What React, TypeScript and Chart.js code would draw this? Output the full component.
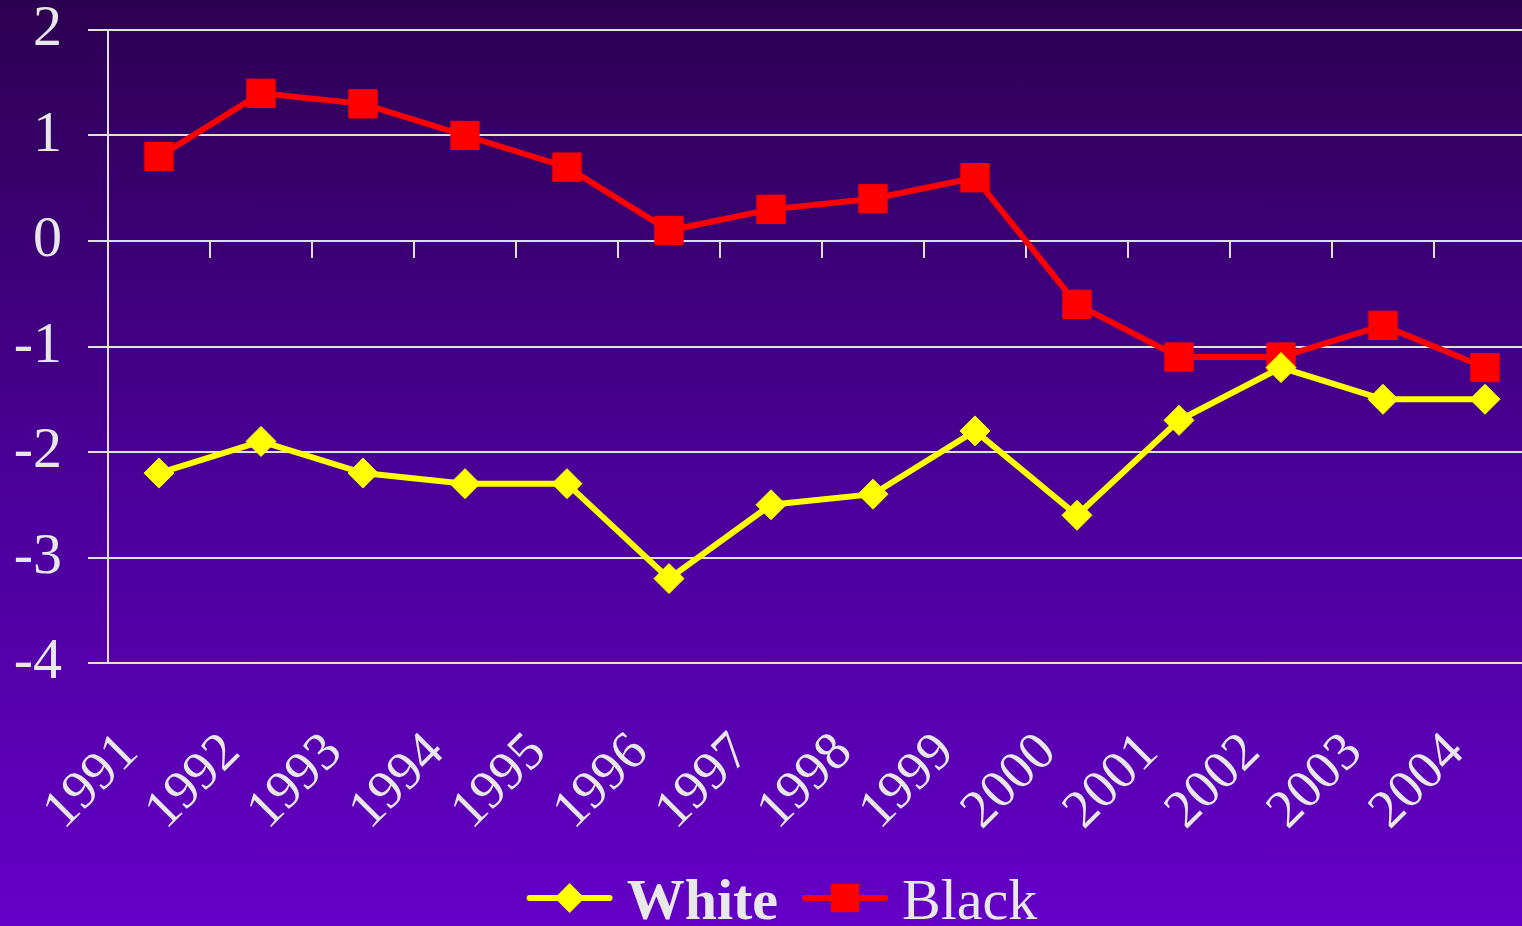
import React, { useEffect, useRef } from 'react';
import { Chart, registerables } from 'chart.js';

Chart.register(...registerables);

const years = ['1991', '1992', '1993', '1994', '1995', '1996', '1997', '1998', '1999', '2000', '2001', '2002', '2003', '2004'];
const whiteValues = [-2.2, -1.9, -2.2, -2.3, -2.3, -3.2, -2.5, -2.4, -1.8, -2.6, -1.7, -1.2, -1.5, -1.5];
const blackValues = [0.8, 1.4, 1.3, 1.0, 0.7, 0.1, 0.3, 0.4, 0.6, -0.6, -1.1, -1.1, -0.8, -1.2];
const yMin = -4;
const yMax = 2;
const yStep = 1;

const TEXT = '#e8e8e8';
const GRID = '#e0e0e0';
const FONT = '"Liberation Serif", "Times New Roman", serif';

const legendPlugin = {
  id: 'lineLegend',
  afterDraw(chart: any) {
    const ctx = chart.ctx as CanvasRenderingContext2D;
    const dss = chart.data.datasets as any[];
    const lineLen = 86;
    const gapText = 14;
    const gapItem = 24;
    const size = 58;
    const items = dss.map((ds) => {
      ctx.font = `${ds.legendBold ? 'bold ' : ''}${size}px ${FONT}`;
      return { ds, font: ctx.font, tw: ctx.measureText(ds.label).width };
    });
    const total = items.reduce((s, it) => s + lineLen + gapText + it.tw, 0) + gapItem * (items.length - 1);
    let x = 782 - total / 2;
    const cy = chart.chartArea.bottom + 235;
    ctx.save();
    for (const it of items) {
      const ds = it.ds;
      ctx.strokeStyle = ds.borderColor;
      ctx.lineWidth = 6;
      ctx.lineCap = 'round';
      ctx.beginPath();
      ctx.moveTo(x + 3, cy);
      ctx.lineTo(x + lineLen - 3, cy);
      ctx.stroke();
      const mx = x + lineLen / 2;
      ctx.fillStyle = ds.pointBackgroundColor;
      ctx.beginPath();
      if (ds.pointStyle === 'rectRot') {
        const r = ds.pointRadius;
        ctx.moveTo(mx, cy - r);
        ctx.lineTo(mx + r, cy);
        ctx.lineTo(mx, cy + r);
        ctx.lineTo(mx - r, cy);
        ctx.closePath();
      } else {
        const h = ds.pointRadius * Math.SQRT1_2;
        ctx.rect(mx - h, cy - h, 2 * h, 2 * h);
      }
      ctx.fill();
      x += lineLen + gapText;
      ctx.font = it.font;
      ctx.fillStyle = TEXT;
      ctx.textBaseline = 'alphabetic';
      ctx.textAlign = 'left';
      ctx.fillText(ds.label, x, cy + 21);
      x += it.tw + gapItem;
    }
    ctx.restore();
  },
};

export default function App() {
  const ref = useRef<HTMLCanvasElement | null>(null);
  useEffect(() => {
    document.body.style.margin = '0';
    const canvas = ref.current!;
    const chart = new Chart(canvas, {
      type: 'line',
      data: {
        labels: years,
        datasets: [
          {
            label: 'White',
            data: whiteValues,
            borderColor: '#ffff00',
            backgroundColor: '#ffff00',
            pointBackgroundColor: '#ffff00',
            pointBorderColor: '#ffff00',
            pointStyle: 'rectRot',
            pointRadius: 15,
            pointBorderWidth: 1,
            borderWidth: 6,
            tension: 0,
            legendBold: true,
          } as any,
          {
            label: 'Black',
            data: blackValues,
            borderColor: '#ff0000',
            backgroundColor: '#ff0000',
            pointBackgroundColor: '#ff0000',
            pointBorderColor: '#ff0000',
            pointStyle: 'rect',
            pointRadius: 20,
            pointBorderWidth: 1,
            borderWidth: 6,
            tension: 0,
            legendBold: false,
          } as any,
        ],
      },
      options: {
        animation: false,
        responsive: false,
        maintainAspectRatio: false,
        layout: { autoPadding: false, padding: { top: 30, left: 0, right: 0, bottom: 0 } },
        plugins: {
          legend: { display: false },
          tooltip: { enabled: false },
        },
        scales: {
          x: {
            type: 'category',
            position: 'bottom',
            offset: true,
            grid: { display: false },
            border: { display: false },
            ticks: {
              color: TEXT,
              font: { family: FONT, size: 54 },
              minRotation: 45,
              maxRotation: 45,
              autoSkip: false,
              padding: 50,
              labelOffset: -29,
            },
            afterFit: (s: any) => {
              s.height = 263;
              s.paddingLeft = 0;
              s.paddingRight = 0;
            },
          },
          x2: {
            type: 'category',
            position: { y: 0 } as any,
            offset: true,
            grid: {
              display: true,
              offset: true,
              drawOnChartArea: false,
              drawTicks: true,
              tickLength: 17,
              color: GRID,
              lineWidth: 2,
            },
            border: { display: false },
            ticks: { display: false },
            afterFit: (s: any) => {
              s.paddingLeft = 0;
              s.paddingRight = 0;
            },
          },
          y: {
            min: yMin,
            max: yMax,
            ticks: {
              stepSize: yStep,
              color: TEXT,
              font: { family: FONT, size: 58, lineHeight: 1 },
              padding: 26,
            },
            grid: {
              color: GRID,
              lineWidth: 2,
              tickLength: 20,
              drawTicks: true,
            },
            border: { display: true, color: GRID, width: 2 },
            afterFit: (s: any) => {
              s.width = 108;
              s.paddingTop = 0;
              s.paddingBottom = 0;
            },
          },
        },
      } as any,
      plugins: [legendPlugin],
    });
    return () => chart.destroy();
  }, []);
  return (
    <div
      style={{
        width: 1522,
        height: 926,
        overflow: 'hidden',
        position: 'relative',
        background: 'linear-gradient(to bottom, #2c0050 0%, #4a0096 50%, #6400c6 100%)',
      }}
    >
      <canvas ref={ref} width={1536} height={926} style={{ display: 'block', width: 1536, height: 926 }} />
    </div>
  );
}
